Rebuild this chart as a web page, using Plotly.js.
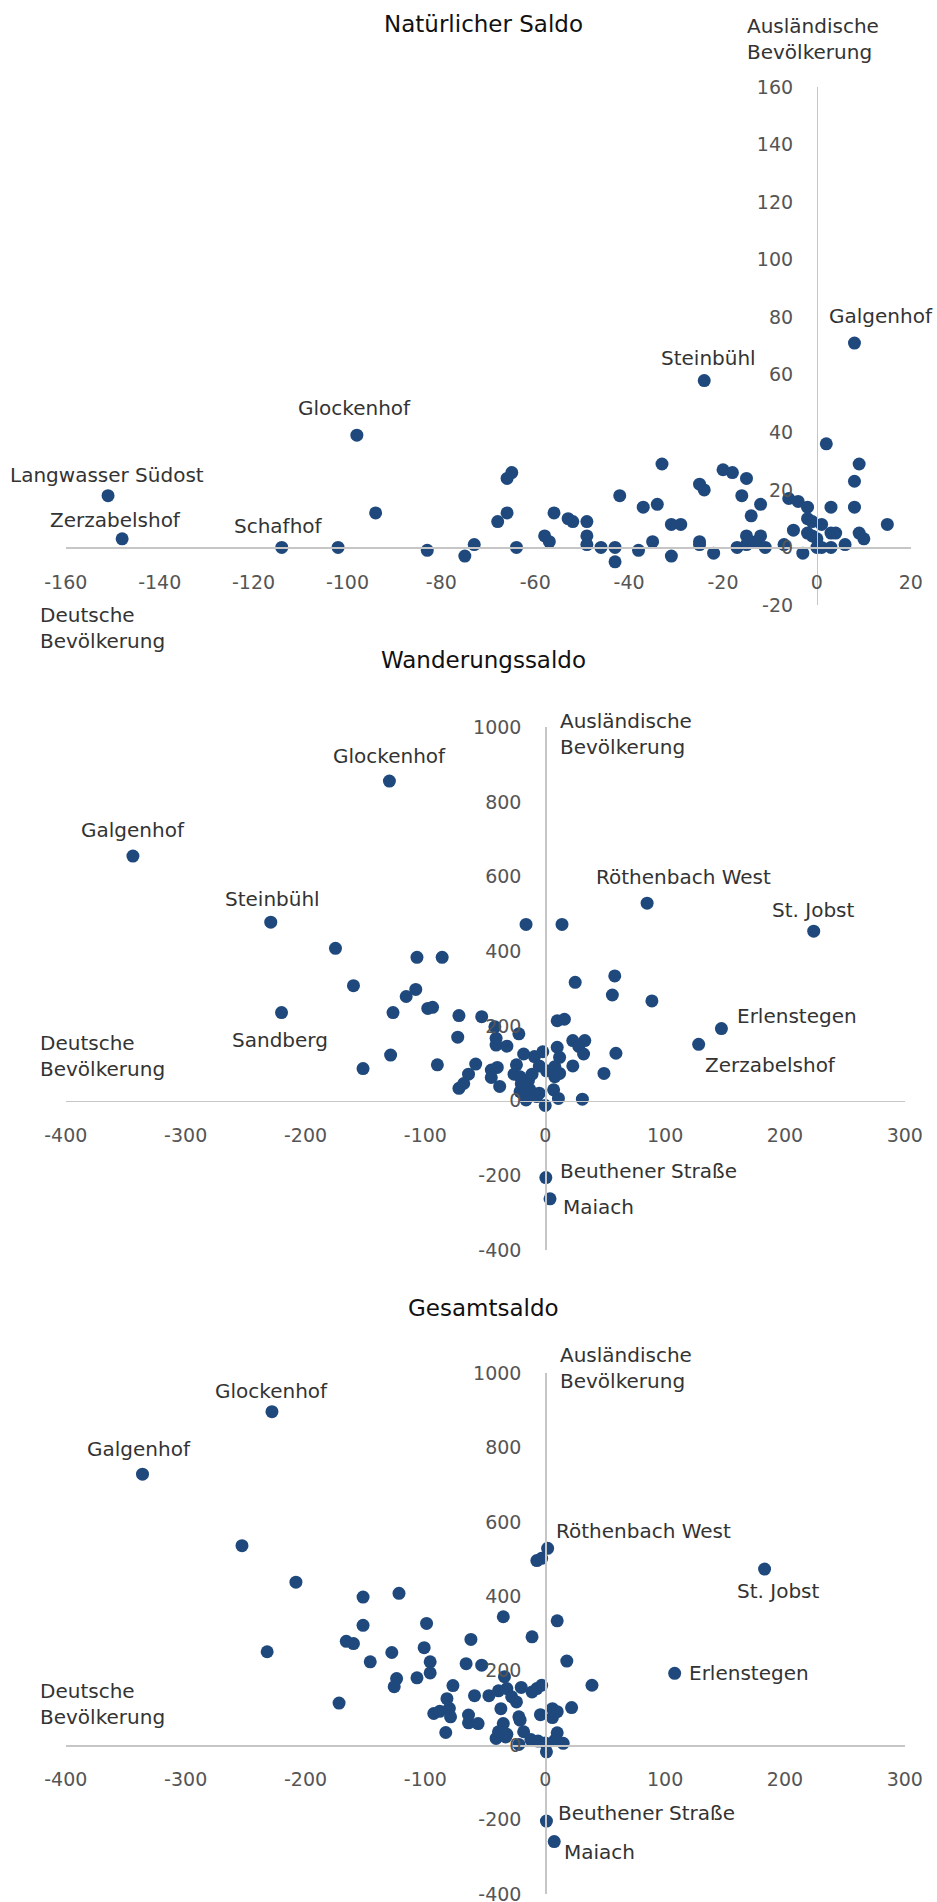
<!DOCTYPE html>
<html>
<head>
<meta charset="utf-8">
<script src="https://cdn.plot.ly/plotly-3.0.1.min.js"></script>
<style>html,body{margin:0;padding:0;background:#fff;}#chart{width:937px;height:1902px;}</style>
</head>
<body>
<div id="chart"></div>
<script>
// ---------- DATA ----------
// Natürlicher Saldo: x = Deutsche Bevölkerung, y = Ausländische Bevölkerung
const natNames = ["Langwasser Südost","Zerzabelshof","Schafhof","Glockenhof","Steinbühl","Galgenhof"];
const natDe  = [-151,-148,-114,-98,-24,8, -102,-94,-83,-75,-73,-68,-66,-66,-65,-64,-58,-57,-56,-53,-52,-49,-49,-49,-46,-43,-43,-42,-38,-37,-35,-34,-33,-31,-29,-31,-25,-24,-25,-25,-22,-20,-18,-15,-16,-17,-15,-15,-14,-12,-12,-13,-11,-7,-6,-4,-5,-3,-2,-2,-2,-1,-1,1,0,0,2,3,3,4,1,3,6,8,8,9,9,10,15];
const natAus = [18,3,0,39,58,71, 0,12,-1,-3,1,9,12,24,26,0,4,2,12,10,9,9,4,1,0,0,-5,18,-1,14,2,15,29,8,8,-3,22,20,2,1,-2,27,26,24,18,0,4,1,11,15,4,2,0,1,17,16,6,-2,14,10,5,4,9,8,3,0,36,14,5,5,0,0,1,14,23,29,5,3,8];

// Wanderungssaldo
const wanNames = ["Galgenhof","Glockenhof","Steinbühl","Sandberg","Röthenbach West","Zerzabelshof","Erlenstegen","St. Jobst","Beuthener Straße","Maiach"];
const wanDe  = [-344,-130,-229,-220,85,128,147,224,0.5,4, -175,-160,-152,-129,-127,-116,-108,-107,-98,-94,-90,-86,-72,-73,-72,-68,-64,-58,-53,-45,-45,-42,-41,-41,-40,-38,-32,-26,-24,-22,-21,-21,-18,-16,-16,-14,-11,-9,-7,-5,-5,-2,0,1,7,8,8,10,10,12,12,11,14,16,23,23,25,28,31,32,33,49,56,58,59,89,-20,-13];
const wanAus = [655,856,478,236,529,151,193,454,-206,-263, 408,308,86,122,236,279,298,384,247,250,96,384,228,170,33,46,71,98,225,62,82,198,167,149,89,38,146,71,96,179,64,24,125,472,2,54,71,118,11,93,20,131,-13,80,29,64,91,143,214,116,73,6,472,218,93,161,317,145,4,125,161,73,283,334,127,267,45,30];

// Gesamtsaldo
const gesNames = ["Galgenhof","Glockenhof","Röthenbach West","St. Jobst","Erlenstegen","Beuthener Straße","Maiach"];
const gesDe  = [-336,-228,2,183,108,1,7.5, -253,-208,-232,-172,-166,-160,-152,-152,-146,-128,-126,-124,-122,-107,-101,-99,-96,-96,-93,-88,-83,-82,-80,-79,-77,-66,-64,-64,-62,-59,-56,-53,-47,-41,-39,-39,-37,-35,-35,-34,-33,-32,-32,-28,-24,-22,-22,-21,-20,-18,-12,-11,-11,-7,-7,-4,-3,-3,-6,0,1,6,6,10,10,10,8,15,18,22,39];
const gesAus = [728,896,529,473,193,-204,-259, 536,438,251,113,279,273,398,322,224,249,157,179,408,181,262,327,224,194,85,91,34,125,99,76,160,219,81,60,284,133,58,215,133,18,146,36,98,345,58,184,22,152,29,130,116,2,76,67,155,36,15,143,291,152,496,82,502,161,11,6,-18,98,74,90,334,33,13,5,226,101,161];

// Tick labels
const natXTicks = [-160,-140,-120,-100,-80,-60,-40,-20,0,20];
const natXText  = ["-160","-140","-120","-100","-80","-60","-40","-20","0","20"];
const natYTicks = [-20,0,20,40,60,80,100,120,140,160];
const natYText  = ["-20","0","20","40","60","80","100","120","140","160"];
const migXTicks = [-400,-300,-200,-100,0,100,200,300];
const migXText  = ["-400","-300","-200","-100","0","100","200","300"];
const migYTicks = [-400,-200,0,200,400,600,800,1000];
const migYText  = ["-400","-200","0","200","400","600","800","1000"];

const titles = ["Natürlicher Saldo","Wanderungssaldo","Gesamtsaldo"];
const yAxisTitle = "Ausländische<br>Bevölkerung";
const xAxisTitle = "Deutsche<br>Bevölkerung";

// ---------- STYLE / LAYOUT ----------
const W = 937, H = 1902;
const FONT = "DejaVu Sans";
const MARKER = "#1f497d";
const AXIS = "#c6c6c6";
const TICKC = "#555555";
const LABELC = "#333333";
const fx = px => px / W;
const fy = px => 1 - px / H;

const charts = [
  {de: natDe, aus: natAus, names: natNames, xr: [-160, 20], yr: [-20, 160],
   xt: natXTicks, xtt: natXText, yt: natYTicks, ytt: natYText,
   xpx: [65.8, 910.8], ypx: [87, 605], titleY: 24, ausX: 745, ausY: 39, deY: 628,
   off: {"Galgenhof": ["center", 27, 27], "Steinbühl": ["center", 4, 23], "Glockenhof": ["center", -2, 27],
         "Langwasser Südost": ["center", -1, 21], "Zerzabelshof": ["center", -7, 19], "Schafhof": ["center", -3, 21]}},
  {de: wanDe, aus: wanAus, names: wanNames, xr: [-400, 300], yr: [-400, 1000],
   xt: migXTicks, xtt: migXText, yt: migYTicks, ytt: migYText,
   xpx: [65.8, 904.8], ypx: [727.3, 1250], titleY: 660, ausX: 557.7, ausY: 734, deY: 1056,
   off: {"Glockenhof": ["center", 0, 25], "Galgenhof": ["center", 0, 26], "Steinbühl": ["center", 2, 23],
         "Röthenbach West": ["center", 36, 26], "St. Jobst": ["center", 0, 21], "Erlenstegen": ["left", 14, 13],
         "Zerzabelshof": ["center", 72, -21], "Sandberg": ["center", -2, -27],
         "Beuthener Straße": ["left", 12, 7], "Maiach": ["left", 11, -8]}},
  {de: gesDe, aus: gesAus, names: gesNames, xr: [-400, 300], yr: [-400, 1000],
   xt: migXTicks, xtt: migXText, yt: migYTicks, ytt: migYText,
   xpx: [65.8, 904.8], ypx: [1373, 1894], titleY: 1308, ausX: 557.7, ausY: 1368, deY: 1704,
   off: {"Glockenhof": ["center", 0, 21], "Galgenhof": ["center", -4, 25], "Röthenbach West": ["left", 6, 17],
         "St. Jobst": ["center", 14, -22], "Erlenstegen": ["left", 12, 0],
         "Beuthener Straße": ["left", 10, 8], "Maiach": ["left", 8, -10]}}
];

const data = [];
const layout = {
  width: W, height: H, margin: {l: 0, r: 0, t: 0, b: 0},
  paper_bgcolor: "#fff", plot_bgcolor: "rgba(0,0,0,0)",
  showlegend: false, hovermode: false,
  font: {family: FONT, color: TICKC},
  annotations: []
};

charts.forEach((c, i) => {
  const n = i === 0 ? "" : String(i + 1);
  const xd = [fx(c.xpx[0]), fx(c.xpx[1])];
  const yd = [fy(c.ypx[1]), fy(c.ypx[0])];
  const yPos = xd[0] + (0 - c.xr[0]) / (c.xr[1] - c.xr[0]) * (xd[1] - xd[0]);
  const xPos = yd[0] + (0 - c.yr[0]) / (c.yr[1] - c.yr[0]) * (yd[1] - yd[0]);
  layout["xaxis" + n] = {
    domain: xd, range: c.xr, anchor: "free", position: xPos,
    tickmode: "array", tickvals: c.xt, ticktext: c.xtt,
    showline: true, linecolor: AXIS, linewidth: 1.5, showgrid: false, zeroline: false,
    ticks: "", ticklabelstandoff: 17, ticklabeloverflow: "allow",
    tickfont: {family: FONT, size: 19, color: TICKC},
    fixedrange: true, automargin: false
  };
  layout["yaxis" + n] = {
    domain: yd, range: c.yr, anchor: "free", position: yPos,
    tickmode: "array", tickvals: c.yt, ticktext: c.ytt,
    showline: true, linecolor: AXIS, linewidth: 1.5, showgrid: false, zeroline: false,
    ticks: "", ticklabelstandoff: 20, ticklabeloverflow: "allow",
    tickfont: {family: FONT, size: 19, color: TICKC},
    fixedrange: true, automargin: false
  };
  data.push({
    type: "scatter", mode: "markers", x: c.de, y: c.aus,
    xaxis: "x" + n, yaxis: "y" + n, cliponaxis: false,
    marker: {size: 13, color: MARKER, line: {width: 0}}
  });
  // point labels
  c.names.forEach((nm, k) => {
    const o = c.off[nm];
    layout.annotations.push({
      xref: "x" + n, yref: "y" + n, x: c.de[k], y: c.aus[k], text: nm, showarrow: false,
      xanchor: o[0], yanchor: "middle", xshift: o[1], yshift: o[2],
      font: {family: FONT, size: 20, color: LABELC}
    });
  });
  // chart title
  layout.annotations.push({
    xref: "paper", yref: "paper", x: fx(483.5), y: fy(c.titleY), text: titles[i], showarrow: false,
    xanchor: "center", yanchor: "middle", font: {family: FONT, size: 23, color: "#111111"}
  });
  // axis titles
  layout.annotations.push({
    xref: "paper", yref: "paper", x: fx(c.ausX), y: fy(c.ausY), text: yAxisTitle, showarrow: false,
    xanchor: "left", yanchor: "middle", align: "left", font: {family: FONT, size: 20, color: LABELC}
  });
  layout.annotations.push({
    xref: "paper", yref: "paper", x: fx(37.7), y: fy(c.deY), text: xAxisTitle, showarrow: false,
    xanchor: "left", yanchor: "middle", align: "left", font: {family: FONT, size: 20, color: LABELC}
  });
});

Plotly.newPlot("chart", data, layout, {staticPlot: true, displayModeBar: false});
</script>
</body>
</html>
